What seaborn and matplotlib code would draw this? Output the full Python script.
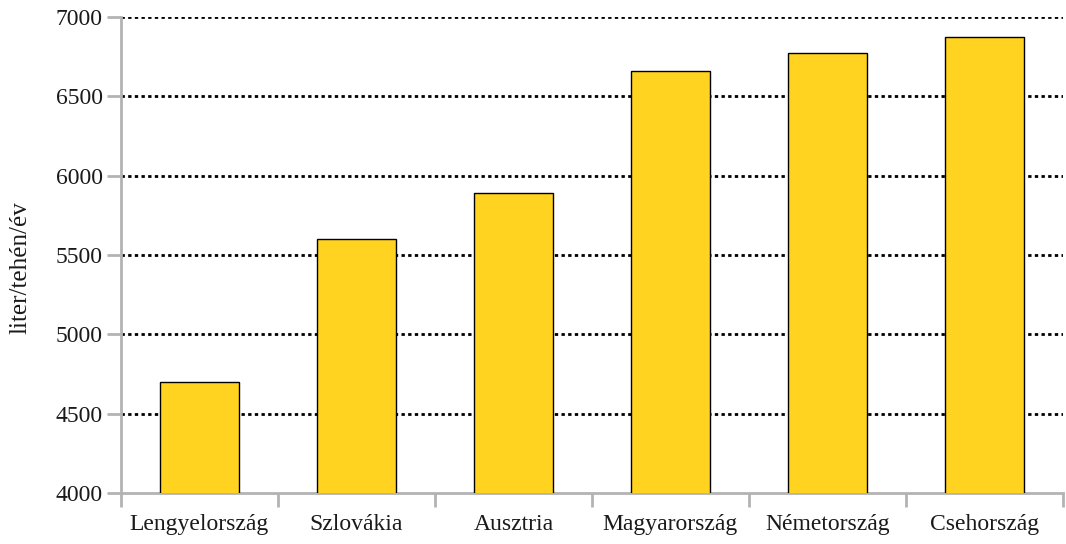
import matplotlib
matplotlib.use("Agg")
import matplotlib.pyplot as plt
import numpy as np
import pandas as pd
import seaborn as sns

countries = ["Lengyelország", "Szlovákia", "Ausztria", "Magyarország", "Németország", "Csehország"]
milk_yield = [4700, 5600, 5890, 6660, 6770, 6870]
y_ticks = [4000, 4500, 5000, 5500, 6000, 6500, 7000]

df = pd.DataFrame({"Ország": countries, "Hozam": milk_yield})

sns.set_style("white")
plt.rcParams["font.family"] = ["Liberation Serif", "DejaVu Serif"]

fig, ax = plt.subplots(figsize=(10.66, 5.44), dpi=100)
fig.subplots_adjust(left=0.1135, right=0.997, top=0.969, bottom=0.094)

sns.barplot(data=df, x="Ország", y="Hozam", color="#FFD320", width=0.5,
            edgecolor="black", linewidth=1, saturation=1, ax=ax, zorder=3)

ax.set_ylim(4000, 7000)
ax.set_xlim(-0.5, len(countries) - 0.5)
ax.set_yticks(y_ticks)
# dotted gridlines (not at the 4000 baseline)
for y in y_ticks[1:]:
    ax.axhline(y, color="black", linestyle=(0, (1.2, 1.2)), linewidth=2, zorder=1)

# category boundary ticks on x
ax.set_xticks(np.arange(-0.5, len(countries)), minor=True)
ax.tick_params(axis="x", which="major", bottom=True, length=0, labelsize=17, pad=15, labelcolor="#1a1a1a")
ax.tick_params(axis="x", which="minor", bottom=True, length=10, width=2, color="#b3b3b3")
ax.tick_params(axis="y", left=True, length=10, width=2, color="#b3b3b3", labelsize=17, pad=3, labelcolor="#1a1a1a")

for side in ["top", "right"]:
    ax.spines[side].set_visible(False)
for side in ["left", "bottom"]:
    ax.spines[side].set_color("#b3b3b3")
    ax.spines[side].set_linewidth(2)

ax.set_xlabel("")
ax.set_ylabel("liter/tehén/év", fontsize=18, color="#1a1a1a")
ax.yaxis.set_label_coords(-0.095, 0.473)

plt.savefig("out.png", dpi=100)
